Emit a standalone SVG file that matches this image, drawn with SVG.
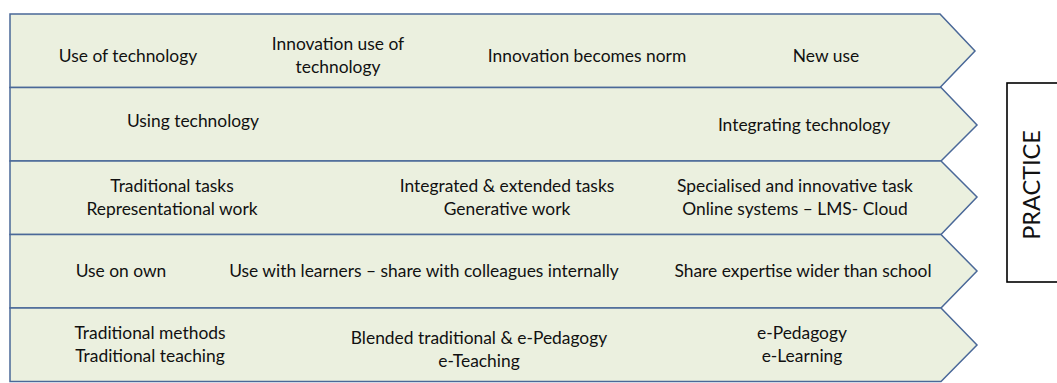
<svg xmlns="http://www.w3.org/2000/svg" width="1057" height="383" viewBox="0 0 1057 383">
<style>
.row{fill:#EBF0DF;stroke:#4A6898;stroke-width:1.5;stroke-linejoin:miter}
text{font-family:Lato,"Liberation Sans",sans-serif;font-size:17.4px;fill:#111;text-anchor:middle}
.box{fill:#fff;stroke:#000;stroke-width:1.6}
</style>
<rect width="1057" height="383" fill="#fff"/>
<g id="row1">
<path class="row" d="M10,14 H940 L975,51 L940,87.5 H10 Z"/>
<text x="128" y="62">Use of technology</text>
<text x="338" y="50">Innovation use of</text>
<text x="338" y="73">technology</text>
<text x="587" y="62">Innovation becomes norm</text>
<text x="826" y="62">New use</text>
</g>
<g id="row2">
<path class="row" d="M10,87.5 H941 L977,125 L941,161 H10 Z"/>
<text x="193" y="127">Using technology</text>
<text x="804" y="131">Integrating technology</text>
</g>
<g id="row3">
<path class="row" d="M10,161 H941 L977,197 L941,234.5 H10 Z"/>
<text x="172" y="192">Traditional tasks</text>
<text x="172" y="215">Representational work</text>
<text x="507" y="192">Integrated &amp; extended tasks</text>
<text x="507" y="215">Generative work</text>
<text x="795" y="192">Specialised and innovative task</text>
<text x="795" y="215">Online systems – LMS- Cloud</text>
</g>
<g id="row4">
<path class="row" d="M10,234.5 H941 L977,271 L941,308 H10 Z"/>
<text x="121" y="277">Use on own</text>
<text x="424" y="277">Use with learners – share with colleagues internally</text>
<text x="803" y="277">Share expertise wider than school</text>
</g>
<g id="row5">
<path class="row" d="M10,308 H941 L977,345 L941,381.5 H10 Z"/>
<text x="150" y="339">Traditional methods</text>
<text x="150" y="362">Traditional teaching</text>
<text x="479" y="344">Blended traditional &amp; e-Pedagogy</text>
<text x="479" y="367">e-Teaching</text>
<text x="802" y="339">e-Pedagogy</text>
<text x="802" y="362">e-Learning</text>
</g>
<g id="practice">
<rect class="box" x="1007" y="83" width="60" height="199"/>
<text transform="translate(1040,185) rotate(-90)" style="font-size:23.5px">PRACTICE</text>
</g>
<g id="connectors"/>
</svg>
